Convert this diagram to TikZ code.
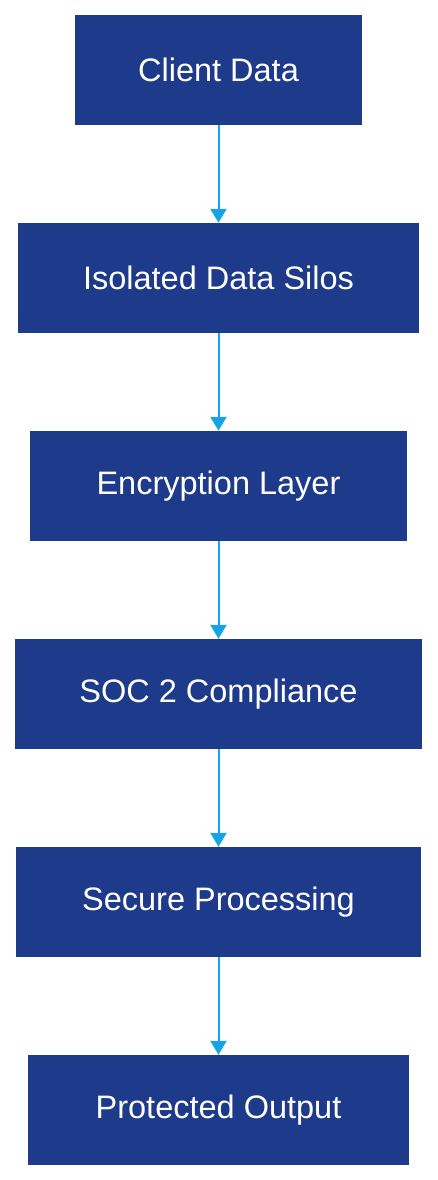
\documentclass[tikz,border=0pt]{standalone}
\usepackage{fontspec}
\setmainfont{Liberation Sans}
\usetikzlibrary{positioning,arrows.meta}
\definecolor{boxblue}{HTML}{1E3A8A}
\definecolor{linkblue}{HTML}{14A5E8}
\tikzset{
  stage/.style={fill=boxblue, text=white, font=\fontsize{32.5}{38}\selectfont,
    minimum height=110pt, inner sep=0pt},
  link/.style={linkblue, line width=2pt, -{Triangle[width=16pt,length=14pt]}}
}
\begin{document}
\begin{tikzpicture}[x=1pt,y=1pt]
    \useasboundingbox (-218.5,70) rectangle (219.5,-1110);
    % Stufen
    \node[stage, minimum width=287pt] (client) at (0,0) {Client Data};
    \node[stage, minimum width=400pt, below=97.6pt of client] (silos) {Isolated Data Silos};
    \node[stage, minimum width=377pt, below=97.6pt of silos] (encrypt) {Encryption Layer};
    \node[stage, minimum width=407pt, below=97.6pt of encrypt] (soc) {SOC 2 Compliance};
    \node[stage, minimum width=405pt, below=97.6pt of soc] (process) {Secure Processing};
    \node[stage, minimum width=381pt, below=97.6pt of process] (output) {Protected Output};
    % Pfeile
    \draw[link] (client) -- (silos);
    \draw[link] (silos) -- (encrypt);
    \draw[link] (encrypt) -- (soc);
    \draw[link] (soc) -- (process);
    \draw[link] (process) -- (output);
\end{tikzpicture}
\end{document}
